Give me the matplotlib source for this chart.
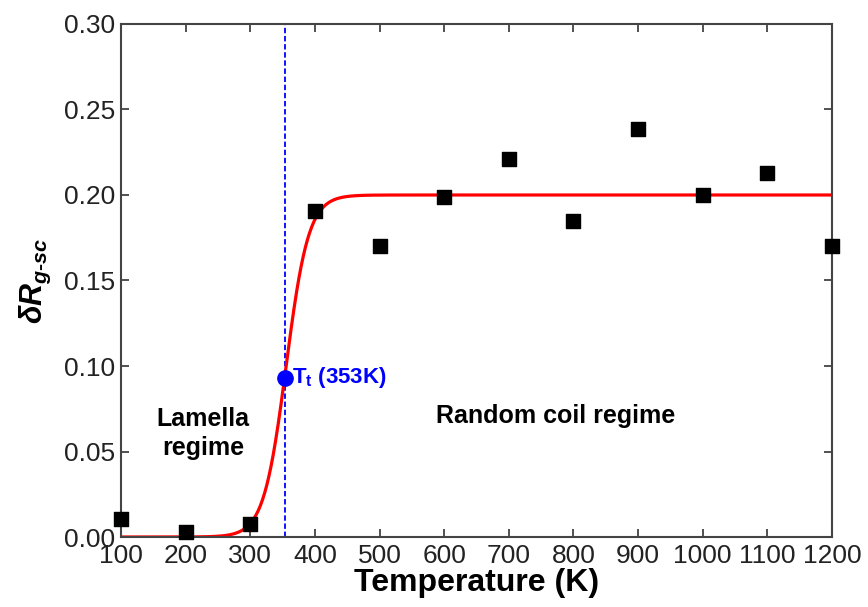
import numpy as np
import matplotlib
matplotlib.use("Agg")
import matplotlib.pyplot as plt

temperature = [100, 200, 300, 400, 500, 600, 700, 800, 900, 1000, 1100, 1200]
delta_rg = [0.0105, 0.003, 0.0076, 0.1906, 0.170, 0.199, 0.221, 0.1848, 0.2386, 0.200, 0.2129, 0.170]

# sigmoid fit parameters
fit_plateau = 0.20
fit_x0 = 355.5
fit_dx = 17.4
tt_value = 353
tt_y = 0.093

xticks = [100, 200, 300, 400, 500, 600, 700, 800, 900, 1000, 1100, 1200]
yticks = [0.00, 0.05, 0.10, 0.15, 0.20, 0.25, 0.30]

plt.rcParams['font.family'] = ['Liberation Sans', 'DejaVu Sans']
plt.rcParams['mathtext.fontset'] = 'custom'
plt.rcParams['mathtext.it'] = 'Liberation Sans:bold:italic'
plt.rcParams['mathtext.rm'] = 'Liberation Sans:bold'
plt.rcParams['mathtext.bf'] = 'Liberation Sans:bold'

fig = plt.figure(figsize=(8.68, 6.07), dpi=100)
ax = fig.add_axes([0.1394, 0.1153, 0.8191, 0.8452])

xs = np.linspace(100, 1200, 1000)
ys = fit_plateau / (1 + np.exp(-(xs - fit_x0) / fit_dx))
ax.plot(xs, ys, color='#ff0000', lw=2.3, zorder=2)

ax.axvline(tt_value, color='#0000ff', ls=(0, (3, 1.5)), lw=1.3, zorder=1)

ax.scatter(temperature, delta_rg, marker='s', s=110, color='black', zorder=3, clip_on=False)

ax.plot([tt_value], [tt_y], 'o', color='#0000ff', ms=11, zorder=4)
ax.text(tt_value + 11, tt_y, r'T$_\mathrm{t}$ (353K)', color='#0000ff', fontsize=16,
        fontweight='bold', va='center', ha='left')

ax.text(227, 0.0605, 'Lamella\nregime', fontsize=18, fontweight='bold', ha='center', va='center',
        linespacing=1.3)
ax.text(772, 0.0705, 'Random coil regime', fontsize=18, fontweight='bold', ha='center', va='center')

ax.set_xlim(100, 1200)
ax.set_ylim(0, 0.30)
ax.set_xticks(xticks)
ax.set_yticks(yticks)
ax.set_xticklabels([str(t) for t in xticks])
ax.set_yticklabels([f'{v:.2f}' for v in yticks])
ax.tick_params(direction='in', length=6, width=1.2, top=True, right=True, labelsize=19,
               colors='#333333', labelcolor='#222222', pad=4)
ax.tick_params(axis='x', pad=5)
for sp in ax.spines.values():
    sp.set_color('#444444')
    sp.set_linewidth(1.5)

ax.set_xlabel('Temperature (K)', fontsize=23, fontweight='bold', labelpad=0)
ax.set_ylabel(r'$\delta R_{g\text{-}sc}$', fontsize=22, labelpad=8)

fig.savefig('out.png', dpi=100)
